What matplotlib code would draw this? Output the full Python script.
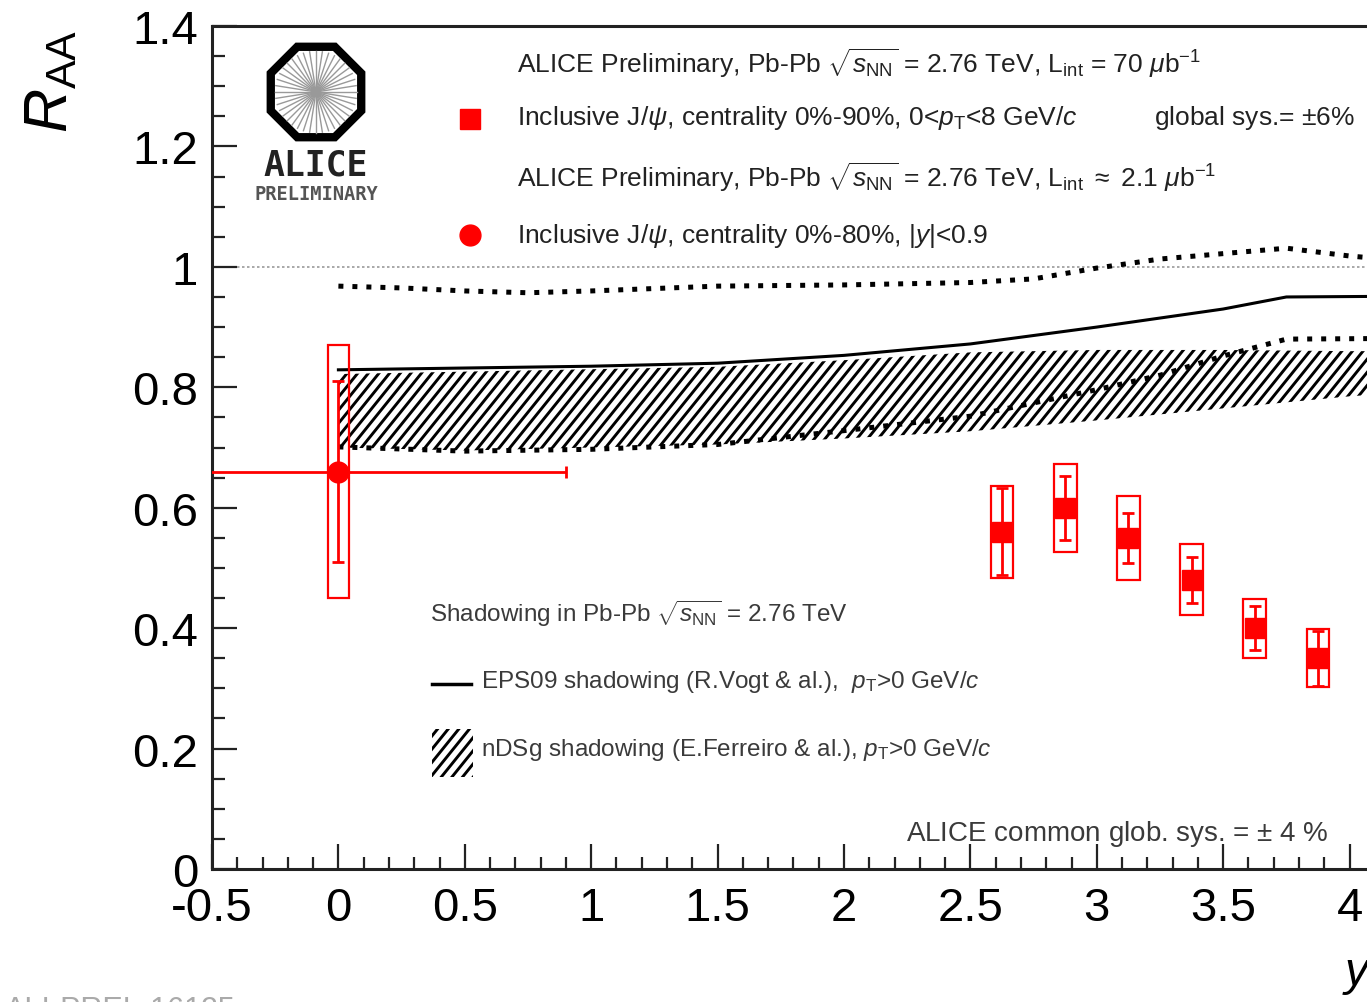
import numpy as np
import matplotlib
matplotlib.use('Agg')
import matplotlib.pyplot as plt
from matplotlib.patches import RegularPolygon, Rectangle
from matplotlib.collections import LineCollection
from matplotlib.ticker import MultipleLocator, FuncFormatter

plt.rcParams['font.family'] = ['Liberation Sans', 'DejaVu Sans']
plt.rcParams['mathtext.fontset'] = 'custom'
plt.rcParams['mathtext.rm'] = 'Liberation Sans'
plt.rcParams['mathtext.it'] = 'Liberation Sans:italic'
plt.rcParams['mathtext.bf'] = 'Liberation Sans:bold'
plt.rcParams['axes.unicode_minus'] = False

# forward rapidity, inclusive J/psi 0-90%
y_fwd = [2.625, 2.875, 3.125, 3.375, 3.625, 3.875]
raa_fwd = [0.56, 0.60, 0.55, 0.48, 0.40, 0.35]
stat_fwd = [0.072, 0.053, 0.042, 0.038, 0.036, 0.046]
sys_fwd = [0.076, 0.073, 0.070, 0.059, 0.049, 0.048]

# mid rapidity, inclusive J/psi 0-80%
y_mid = [0.0]
raa_mid = [0.66]
xerr_mid = [0.9]
stat_mid = [0.15]
sys_mid = [0.21]

# EPS09 shadowing (central and band limits)
eps_x = [0, 0.5, 1, 1.5, 2, 2.5, 3, 3.5, 3.75, 4.5]
eps_c = [0.829, 0.832, 0.835, 0.840, 0.853, 0.872, 0.900, 0.930, 0.950, 0.952]
epsu_x = [0, 0.25, 0.5, 0.75, 1, 1.5, 2, 2.5, 2.75, 3, 3.25, 3.5, 3.75, 4, 4.5]
eps_up = [0.968, 0.965, 0.960, 0.957, 0.960, 0.968, 0.970, 0.974, 0.980, 0.998,
          1.013, 1.022, 1.031, 1.018, 1.000]
epsl_x = [0, 0.5, 1, 1.5, 2, 2.5, 3, 3.25, 3.5, 3.75, 4.5]
eps_lo = [0.701, 0.694, 0.697, 0.705, 0.728, 0.752, 0.796, 0.820, 0.852, 0.880, 0.882]

# nDSg shadowing band
nds_x = [0, 0.5, 1, 1.5, 2, 2.5, 3, 3.5, 4, 4.5]
nds_hi = [0.822, 0.826, 0.830, 0.834, 0.845, 0.858, 0.862, 0.862, 0.860, 0.860]
nds_lo = [0.700, 0.695, 0.700, 0.705, 0.715, 0.727, 0.745, 0.765, 0.785, 0.800]

W, H = 1367, 1003
fig = plt.figure(figsize=(W / 100, H / 100), dpi=100)
ax = fig.add_axes([212 / W, 1 - 870 / H, 1264 / W, 843 / H])
ax.set_xlim(-0.5, 4.5)
ax.set_ylim(0, 1.4)

red = '#ff0000'


def hatch_lines(ax, clip, x0, x1, y0, y1):
    # ROOT-like hatching, clipped to the given path/patch
    step = 0.042
    slope = 0.52
    segs = []
    for xs in np.arange(x0 - (y1 - y0) / slope, x1 + step, step):
        segs.append([(xs, y0), (xs + (y1 - y0) / slope, y1)])
    lc = LineCollection(segs, colors='black', linewidths=2.1, zorder=2)
    ax.add_collection(lc)
    lc.set_clip_path(clip)
    return lc


# unity line
ax.axhline(1.0, color='#999999', lw=1.2, ls=(0, (1.5, 1.5)), zorder=1)

# nDSg band
band = ax.fill_between(nds_x, nds_lo, nds_hi, facecolor='none', linewidth=0, zorder=2)
hatch_lines(ax, (band.get_paths()[0], ax.transData), -0.1, 4.6, 0.6, 0.95)

# EPS09
ax.plot(eps_x, eps_c, color='black', lw=2.2, zorder=3)
ax.plot(epsu_x, eps_up, color='black', lw=3.6, dashes=(1.0, 1.8), zorder=3)
ax.plot(epsl_x, eps_lo, color='black', lw=3.6, dashes=(1.0, 1.8), zorder=3)

# systematic boxes
ax.bar(y_fwd, [2 * s for s in sys_fwd], width=0.09,
       bottom=[r - s for r, s in zip(raa_fwd, sys_fwd)],
       fill=False, edgecolor=red, linewidth=1.6, zorder=4)
ax.bar(y_mid, [2 * s for s in sys_mid], width=0.085,
       bottom=[r - s for r, s in zip(raa_mid, sys_mid)],
       fill=False, edgecolor=red, linewidth=1.6, zorder=4)

# data points
ax.errorbar(y_fwd, raa_fwd, yerr=stat_fwd, fmt='s', color=red, ms=15,
            elinewidth=2, capsize=4, capthick=2, zorder=5)
ax.errorbar(y_mid, raa_mid, xerr=xerr_mid, yerr=stat_mid, fmt='o', color=red,
            ms=15, elinewidth=2, capsize=4, capthick=2, zorder=5)

# axes style
for s in ['left', 'bottom', 'top']:
    ax.spines[s].set_linewidth(2.2)
    ax.spines[s].set_color('#222222')
ax.spines['right'].set_visible(False)
ax.xaxis.set_major_locator(MultipleLocator(0.5))
ax.xaxis.set_minor_locator(MultipleLocator(0.1))
ax.yaxis.set_major_locator(MultipleLocator(0.2))
ax.yaxis.set_minor_locator(MultipleLocator(0.05))
fmt = FuncFormatter(lambda v, p: '%g' % round(v, 2))
ax.xaxis.set_major_formatter(fmt)
ax.yaxis.set_major_formatter(fmt)
ax.tick_params(which='both', direction='in', top=False, right=False,
               width=1.6, color='#222222', labelsize=34)
ax.tick_params(which='major', length=18)
ax.tick_params(which='minor', length=9)
ax.tick_params(axis='x', pad=12)
ax.tick_params(axis='y', pad=10)

# top legend
tc = '#222222'
ax.text(0.708, 1.340, r'ALICE Preliminary, Pb-Pb $\sqrt{s_{\rm NN}}$ = 2.76 TeV, '
        r'L$_{\rm int}$ = 70 $\mu$b$^{-1}$', fontsize=19, color=tc, va='center')
ax.plot([0.522], [1.245], 's', color=red, ms=15)
ax.text(0.708, 1.249, r'Inclusive J/$\psi$, centrality 0%-90%, 0<$p_{\rm T}$<8 GeV/$c$',
        fontsize=19, color=tc, va='center')
ax.text(3.228, 1.249, r'global sys.= $\pm$6%', fontsize=19, color=tc, va='center')
ax.text(0.708, 1.150, r'ALICE Preliminary, Pb-Pb $\sqrt{s_{\rm NN}}$ = 2.76 TeV, '
        r'L$_{\rm int}$ $\approx$ 2.1 $\mu$b$^{-1}$', fontsize=19, color=tc, va='center')
ax.plot([0.522], [1.053], 'o', color=red, ms=15)
ax.text(0.708, 1.053, r'Inclusive J/$\psi$, centrality 0%-80%, |$y$|<0.9',
        fontsize=19, color=tc, va='center')

# lower legend
lc = '#3a3a3a'
ax.text(0.364, 0.425, r'Shadowing in Pb-Pb $\sqrt{s_{\rm NN}}$ = 2.76 TeV',
        fontsize=17.5, color=lc, va='center')
ax.plot([0.372, 0.526], [0.307, 0.307], color='black', lw=2.5)
ax.text(0.566, 0.312, r'EPS09 shadowing (R.Vogt & al.),  $p_{\rm T}$>0 GeV/$c$',
        fontsize=17.5, color=lc, va='center')
box = Rectangle((0.372, 0.153), 0.162, 0.080, facecolor='none', linewidth=0)
ax.add_patch(box)
hatch_lines(ax, box, 0.3, 0.6, 0.14, 0.25)
ax.text(0.566, 0.199, r'nDSg shadowing (E.Ferreiro & al.), $p_{\rm T}$>0 GeV/$c$',
        fontsize=17.5, color=lc, va='center')
ax.text(2.247, 0.060, r'ALICE common glob. sys. = $\pm$ 4 %', fontsize=20,
        color=lc, va='center')

# axis titles
fig.text(52 / W, 1 - 81 / H, r'$R_{\rm AA}$', rotation=90, fontsize=44,
         ha='center', va='center')
fig.text(1357 / W, 1 - 975 / H, r'$y$', fontsize=34, ha='center', va='center')
fig.text(5 / W, -0.008, 'ALI-PREL-16125', fontsize=22, color='#aaaaaa', va='center')

# ALICE logo
lax = fig.add_axes([(316 - 55) / W, 1 - (93 + 55) / H, 110 / W, 110 / H])
lax.set_xlim(-1, 1)
lax.set_ylim(-1, 1)
lax.axis('off')
lax.add_patch(RegularPolygon((0, 0), 8, radius=0.89, orientation=np.pi / 8,
                             facecolor='none', edgecolor='black', lw=6))
for a in np.linspace(0, 2 * np.pi, 40, endpoint=False):
    lax.plot([0.02 * np.cos(a), 0.74 * np.cos(a)], [0.02 * np.sin(a), 0.74 * np.sin(a)],
             color='#999999', lw=1.0)
fig.text(316 / W, 1 - 165 / H, 'ALICE', fontsize=25, fontweight='bold',
         family='DejaVu Sans Mono', ha='center', va='center', color='#222222')
fig.text(316 / W, 1 - 194 / H, 'PRELIMINARY', fontsize=13.5, fontweight='bold',
         family='DejaVu Sans Mono', ha='center', va='center', color='#555555')

fig.savefig('out.png', dpi=100)
